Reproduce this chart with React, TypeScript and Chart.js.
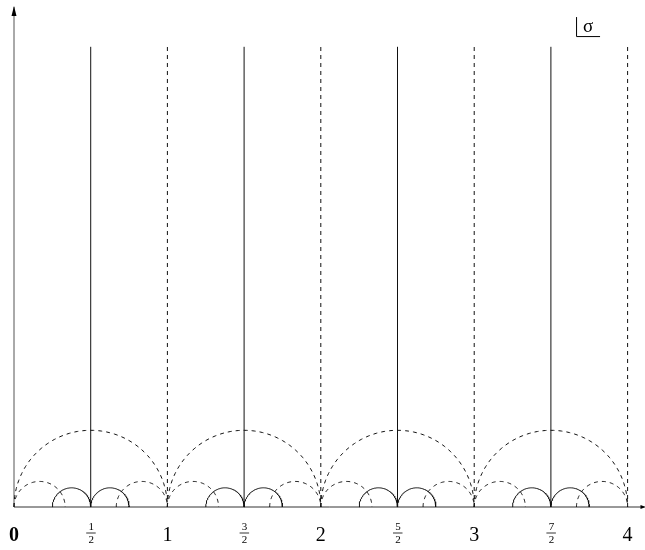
import React, { useEffect, useRef } from "react";
import { Chart, registerables } from "chart.js";

Chart.register(...registerables);

// ---- data ----
const solidVerticals = [0.5, 1.5, 2.5, 3.5];
const dashedVerticals = [1, 2, 3, 4];
const verticalTop = 3;
const bigArcCenters = [0.5, 1.5, 2.5, 3.5];
const bigArcRadius = 1 / 2;
const smallDashedArcCenters = [1 / 6, 5 / 6, 7 / 6, 11 / 6, 13 / 6, 17 / 6, 19 / 6, 23 / 6];
const smallDashedArcRadius = 1 / 6;
const smallSolidArcCenters = [3 / 8, 5 / 8, 11 / 8, 13 / 8, 19 / 8, 21 / 8, 27 / 8, 29 / 8];
const smallSolidArcRadius = 1 / 8;
const tickValues = [0, 0.5, 1, 1.5, 2, 2.5, 3, 3.5, 4];
const tickLabels = ["0", "1/2", "1", "3/2", "2", "5/2", "3", "7/2", "4"];
const xAxisEnd = 4.11;
const yAxisEnd = 3.26;
const sigmaLabel = "σ";
const sigmaAnchor = { x: 3.664, y: 3.07 };

const SERIF = "'Liberation Serif', 'Times New Roman', serif";
const INK = "#111";

function arcPoints(cx: number, r: number, n = 90) {
  const pts: { x: number; y: number }[] = [];
  for (let i = 0; i <= n; i++) {
    const t = Math.PI - (Math.PI * i) / n;
    pts.push({ x: cx + r * Math.cos(t), y: r * Math.sin(t) });
  }
  return pts;
}

function lineDs(data: { x: number; y: number }[], dashed: boolean, color = INK, width = 1) {
  return {
    data,
    showLine: true,
    borderColor: color,
    borderWidth: width,
    borderDash: dashed ? [4, 4] : [],
    pointRadius: 0,
    fill: false,
    tension: 0,
  };
}

const overlayPlugin = {
  id: "overlay",
  afterDatasetsDraw(chart: any) {
    const ctx = chart.ctx as CanvasRenderingContext2D;
    const xs = chart.scales.x;
    const ys = chart.scales.y;
    const px = (v: number) => xs.getPixelForValue(v);
    const py = (v: number) => ys.getPixelForValue(v);
    ctx.save();
    // arrowheads
    ctx.fillStyle = "#000";
    const yt = py(yAxisEnd);
    const x0 = px(0);
    ctx.beginPath();
    ctx.moveTo(x0, yt - 1);
    ctx.lineTo(x0 - 2.5, yt + 9);
    ctx.lineTo(x0 + 2.5, yt + 9);
    ctx.closePath();
    ctx.fill();
    const xt = px(xAxisEnd);
    const y0 = py(0);
    ctx.beginPath();
    ctx.moveTo(xt + 1, y0);
    ctx.lineTo(xt - 4, y0 - 2);
    ctx.lineTo(xt - 4, y0 + 2);
    ctx.closePath();
    ctx.fill();

    // tick labels
    ctx.fillStyle = "#000";
    ctx.textAlign = "center";
    ctx.textBaseline = "alphabetic";
    tickLabels.forEach((lab, i) => {
      const x = px(tickValues[i]);
      if (lab.includes("/")) {
        const [num, den] = lab.split("/");
        ctx.font = `11px ${SERIF}`;
        ctx.fillText(num, x + 0.5, 530);
        ctx.fillText(den, x + 0.5, 543);
        ctx.strokeStyle = "#000";
        ctx.lineWidth = 0.8;
        ctx.beginPath();
        ctx.moveTo(x - 4.5, 533);
        ctx.lineTo(x + 5, 533);
        ctx.stroke();
      } else {
        ctx.font = `${lab === "0" ? "bold " : ""}20px ${SERIF}`;
        ctx.fillText(lab, x, 541);
      }
    });

    // sigma mark
    const sx = px(sigmaAnchor.x);
    const sy = py(sigmaAnchor.y);
    ctx.strokeStyle = "#000";
    ctx.lineWidth = 1;
    ctx.beginPath();
    ctx.moveTo(sx + 0.5, sy - 19);
    ctx.lineTo(sx + 0.5, sy + 0.5);
    ctx.lineTo(sx + 24, sy + 0.5);
    ctx.stroke();
    ctx.font = `19px ${SERIF}`;
    ctx.textAlign = "left";
    ctx.fillText(sigmaLabel, sx + 7, sy - 4);
    ctx.restore();
  },
};

export default function App() {
  const ref = useRef<HTMLCanvasElement | null>(null);
  useEffect(() => {
    if (!ref.current) return;
    const datasets: any[] = [];
    bigArcCenters.forEach((c) => datasets.push(lineDs(arcPoints(c, bigArcRadius), true)));
    smallDashedArcCenters.forEach((c) => datasets.push(lineDs(arcPoints(c, smallDashedArcRadius), true)));
    smallSolidArcCenters.forEach((c) => datasets.push(lineDs(arcPoints(c, smallSolidArcRadius), false)));
    dashedVerticals.forEach((v) =>
      datasets.push(lineDs([{ x: v, y: 0 }, { x: v, y: verticalTop }], true))
    );
    solidVerticals.forEach((v) =>
      datasets.push(lineDs([{ x: v, y: 0 }, { x: v, y: verticalTop }], false))
    );
    datasets.push(lineDs([{ x: 0, y: 0 }, { x: xAxisEnd, y: 0 }], false, "#333", 1));
    datasets.push(lineDs([{ x: 0, y: 0 }, { x: 0, y: yAxisEnd }], false, "#555", 1));

    const chart = new Chart(ref.current, {
      type: "scatter",
      data: { datasets },
      options: {
        animation: false,
        responsive: false,
        events: [],
        layout: { padding: 0 },
        plugins: { legend: { display: false }, tooltip: { enabled: false } },
        scales: {
          x: { type: "linear", display: false, min: -0.0913, max: 4.1134 },
          y: { type: "linear", display: false, min: -0.2803, max: 3.3051 },
        },
      },
      plugins: [overlayPlugin],
    });
    return () => chart.destroy();
  }, []);
  return (
    <div style={{ position: "fixed", left: 0, top: 0, width: 645, height: 550, background: "#fff" }}>
      <canvas ref={ref} width={645} height={550} style={{ display: "block" }} />
    </div>
  );
}
